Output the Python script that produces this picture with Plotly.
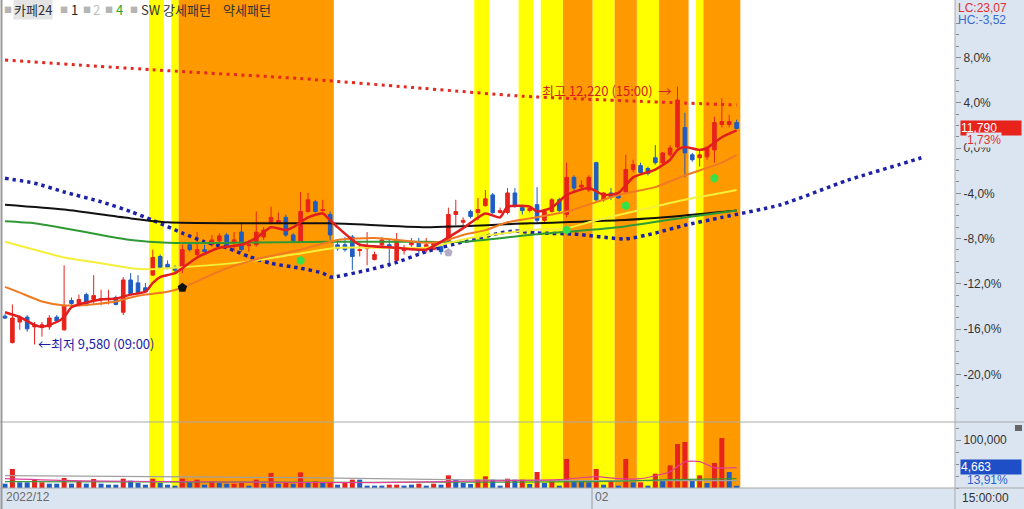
import plotly.graph_objects as go

W, H = 1024, 509
def px(x): return x / W
def py(y): return 1 - y / H

# ---------------- data ----------------
BASE = 11590  # 0.0% reference price
idx = list(range(100))

opens = [9870, 9600, 9810, 9860, 9760, 9770, 9760, 9860, 9730, 10030,
         9980, 10090, 10040, 10040, 10040, 10060, 9910, 10240, 10210, 10160,
         10290, 10480, 10400, 10360, 10370, 10600, 10500, 10550, 10600, 10640,
         10700, 10630, 10730, 10590, 10600, 10680, 10830, 10820, 10880, 10700,
         10630, 10940, 11040, 10950, 10910, 10600, 10600, 10680, 10540, 10560,
         10450, 10600, 10600, 10440, 10540, 10600, 10630, 10580, 10550, 10580,
         10630, 10910, 10830, 10940, 10930, 11000, 11110, 10930, 10930, 11130,
         10980, 10950, 11010, 10850, 10940, 11060, 10910, 11290, 11190, 11160,
         11440, 11060, 11130, 11120, 11140, 11370, 11410, 11380, 11490, 11440,
         11520, 11600, 11800, 11520, 11490, 11500, 11570, 11830, 11830, 11850]
highs = [9890, 9990, 9880, 9880, 9810, 9810, 9880, 9880, 10390, 10060,
         10090, 10110, 10290, 10140, 10140, 10080, 10270, 10310, 10290, 10210,
         10550, 10500, 10440, 10390, 10600, 10630, 10730, 10600, 10700, 10720,
         10720, 10730, 10830, 10650, 10940, 10780, 10990, 10930, 10910, 10720,
         11140, 11130, 11060, 11060, 10940, 10650, 10680, 10700, 10620, 10730,
         10530, 10680, 10650, 10720, 10600, 10670, 10670, 10670, 10630, 10630,
         10980, 11060, 10880, 10960, 11080, 11160, 11130, 10980, 11180, 11180,
         11010, 10990, 11190, 10960, 11080, 11080, 11440, 11310, 11260, 11310,
         11450, 11140, 11180, 11130, 11520, 11470, 11440, 11400, 11620, 11550,
         11620, 12220, 11950, 11540, 11570, 11600, 11910, 12100, 11930, 11880]
lows = [9840, 9590, 9730, 9710, 9580, 9660, 9730, 9810, 9720, 9980,
        9970, 9970, 10000, 9980, 9990, 9980, 9880, 10090, 10110, 10110,
        10280, 10360, 10350, 10320, 10310, 10530, 10480, 10520, 10580, 10620,
        10570, 10530, 10530, 10530, 10580, 10650, 10820, 10810, 10680, 10620,
        10620, 10930, 10930, 10940, 10650, 10540, 10530, 10340, 10480, 10390,
        10440, 10580, 10370, 10420, 10500, 10580, 10500, 10520, 10550, 10500,
        10620, 10800, 10800, 10870, 10850, 10990, 10910, 10920, 10910, 10980,
        10910, 10930, 10820, 10830, 10930, 10930, 10880, 11140, 11160, 11140,
        11040, 11040, 11060, 11070, 11130, 11340, 11330, 11310, 11420, 11420,
        11500, 11570, 11290, 11450, 11400, 11470, 11440, 11800, 11800, 11780]
closes = [9850, 9850, 9860, 9740, 9780, 9780, 9850, 9820, 9980, 10000,
          10040, 9980, 10080, 10050, 10050, 9990, 10240, 10100, 10110, 10120,
          10470, 10370, 10370, 10340, 10550, 10550, 10550, 10530, 10650, 10690,
          10590, 10650, 10550, 10600, 10730, 10750, 10880, 10850, 10700, 10640,
          10940, 11060, 10940, 10960, 10700, 10560, 10550, 10480, 10550, 10570,
          10500, 10650, 10570, 10650, 10560, 10630, 10540, 10600, 10620, 10530,
          10910, 10940, 10850, 10890, 10960, 11070, 10930, 10950, 11130, 10990,
          10950, 10970, 10850, 10940, 11060, 10950, 11290, 11180, 11210, 11290,
          11060, 11130, 11090, 11080, 11370, 11420, 11340, 11330, 11440, 11540,
          11590, 12080, 11540, 11470, 11520, 11590, 11850, 11860, 11860, 11790]

volumes = [9000, 39600, 11800, 11800, 18700, 11800, 9000, 9000, 20800, 9000,
           15300, 9000, 18700, 9000, 6900, 6900, 19400, 15300, 10400, 6900,
           19400, 10400, 6900, 4900, 19400, 12500, 17400, 6900, 13900, 10400,
           9000, 9000, 10400, 4900, 17400, 9000, 31200, 9000, 10400, 9000,
           32600, 11800, 13900, 10400, 10400, 6900, 10400, 17400, 17400, 4900,
           4900, 4900, 6900, 6900, 4900, 6900, 9000, 4900, 9000, 6900,
           26400, 17400, 10400, 8300, 17400, 24300, 17400, 4900, 19400, 17400,
           17400, 8300, 33300, 10400, 13900, 4900, 60400, 15300, 15300, 11800,
           39600, 6900, 16000, 4900, 60400, 11800, 11800, 4900, 29800, 16000,
           47200, 91600, 95800, 15300, 26400, 10400, 52100, 104100, 33300, 4663]
vol_dir = ("dudduuddud" "ududdduddd" "udddududud" "duudududud" "udududuudd"
           "dduuddudud" "uddduuddud" "ududududdd" "ududududud" "uuududuudd")

# moving averages (candle index, price)
ma_red_x = [0, 2, 4, 5, 7, 8, 9, 11, 13, 15, 17, 19, 20, 21, 22, 23, 24, 26, 29, 32, 34, 36, 38, 39,
            41, 43, 44, 45, 47, 48, 53, 57, 59, 62, 65, 67, 68, 71, 72, 74, 76, 79, 81, 83, 85, 88,
            90, 91, 92, 94, 95, 97, 99]
ma_red_y = [9910, 9860, 9780, 9760, 9810, 9860, 9960, 10010, 10040, 10050, 10090, 10120, 10210, 10270,
            10290, 10310, 10360, 10470, 10570, 10600, 10670, 10780, 10750, 10780, 10880, 10920, 10850,
            10780, 10650, 10600, 10570, 10550, 10630, 10770, 10920, 10880, 10990, 10990, 10940, 10980,
            11110, 11180, 11110, 11130, 11290, 11370, 11470, 11570, 11600, 11570, 11590, 11700, 11770]
ma_org_x = [0, 2, 5, 8, 10, 13, 15, 17, 19, 22, 24, 30, 35, 40, 45, 50, 57, 59, 62, 65, 68, 71, 76, 83, 88, 92, 97, 99]
ma_org_y = [10170, 10110, 10020, 9980, 9980, 10000, 10020, 10060, 10090, 10120, 10160, 10360, 10470, 10550,
            10650, 10670, 10620, 10630, 10700, 10750, 10830, 10870, 10940, 11110, 11190, 11310, 11440, 11520]
ma_yel_x = [0, 4, 8, 13, 17, 20, 24, 32, 39, 45, 57, 59, 63, 71, 76, 80, 89, 92, 99]
ma_yel_y = [10630, 10550, 10470, 10410, 10360, 10350, 10370, 10420, 10500, 10570, 10570, 10600, 10670,
            10750, 10770, 10850, 11010, 11060, 11160]
ma_grn_x = [0, 4, 8, 13, 17, 22, 31, 44, 57, 62, 71, 83, 92, 99]
ma_grn_y = [10840, 10820, 10770, 10700, 10650, 10620, 10620, 10630, 10630, 10630, 10700, 10780, 10880, 10950]
ma_blk_x = [0, 8, 17, 22, 31, 44, 57, 71, 83, 92, 99]
ma_blk_y = [11010, 10960, 10870, 10830, 10820, 10820, 10780, 10820, 10850, 10900, 10950]
env_top_x = [0, 20, 40, 55, 70, 85, 99]
env_top_y = [12490, 12390, 12300, 12210, 12120, 12070, 12030]
lead_x = [0, 4, 8, 13, 17, 20, 24, 27, 30, 33, 36, 40, 43, 44, 49, 53, 57, 62, 67, 69, 72, 77, 84,
          88, 92, 97, 105, 114, 121, 124]
lead_y = [11280, 11230, 11140, 11040, 10940, 10850, 10720, 10630, 10570, 10480, 10410, 10360, 10310,
          10270, 10340, 10420, 10530, 10630, 10720, 10740, 10720, 10710, 10660, 10720, 10800, 10880,
          11010, 11260, 11420, 11490]

vma_gray_x = [0, 20, 40, 60, 80, 99]
vma_gray_y = [25600, 23500, 21500, 17300, 15200, 15200]
vma_grn_x = [0, 50, 80, 90, 99]
vma_grn_y = [13100, 12000, 13100, 17300, 19400]
vma_pink_x = [0, 10, 30, 50, 65, 75, 80, 83, 86, 90, 92, 94, 96, 99]
vma_pink_y = [19400, 15000, 12500, 11000, 15000, 17300, 23500, 19400, 19400, 34000, 54800, 54800, 42300, 42300]

# signal markers
bull_x, bull_y = [24], [10160]
gray_x, gray_y = [60], [10520]
green_x = [40, 76, 84, 96]
green_y = [10440, 10750, 11000, 11280]

# pattern bands (first, last candle)
yellow_bands = [(20, 21), (23, 23), (64, 65), (70, 71), (73, 75), (80, 82), (86, 88), (94, 94)]
orange_bands = [(24, 44), (76, 79), (83, 85), (89, 92), (95, 99)]

pct_ticks = [8, 4, 0, -4, -8, -12, -16, -20]
pct_labels = ["8,0%", "4,0%", "0,0%", "-4,0%", "-8,0%", "-12,0%", "-16,0%", "-20,0%"]

# ---------------- colors ----------------
RED = "#e8231c"
BLUE = "#1f5cc4"
PANEL = "#dbe5f1"
FONT = "Noto Sans CJK KR, Liberation Sans, sans-serif"

fig = go.Figure()

def line(xs, ys, color, width, dash=None, ax=("x", "y")):
    fig.add_trace(go.Scatter(x=xs, y=ys, mode="lines", xaxis=ax[0], yaxis=ax[1],
                             line=dict(color=color, width=width, dash=dash, shape="spline", smoothing=0.6),
                             hoverinfo="skip", showlegend=False))

line(env_top_x, env_top_y, "#e22a22", 3, "3px,4.4px")
line(lead_x, lead_y, "#1c22a8", 3.5, "3.5px,3.9px")
line(ma_blk_x, ma_blk_y, "#111111", 2)
line(ma_grn_x, ma_grn_y, "#2f9a35", 2)
line(ma_yel_x, ma_yel_y, "#f4ef3a", 2)
line(ma_org_x, ma_org_y, "#f07a22", 2)

fig.add_trace(go.Candlestick(
    x=idx, open=opens, high=highs, low=lows, close=closes,
    increasing=dict(line=dict(color=RED, width=1), fillcolor=RED),
    decreasing=dict(line=dict(color=BLUE, width=1), fillcolor=BLUE),
    whiskerwidth=0, xaxis="x", yaxis="y", showlegend=False, hoverinfo="skip"))

line(ma_red_x, ma_red_y, "#e11d1d", 2.5)

fig.add_trace(go.Scatter(x=bull_x, y=bull_y, mode="markers", xaxis="x", yaxis="y",
                         marker=dict(symbol="pentagon", size=10, color="#111111"), hoverinfo="skip"))
fig.add_trace(go.Scatter(x=gray_x, y=gray_y, mode="markers", xaxis="x", yaxis="y",
                         marker=dict(symbol="pentagon", size=9, color="#b4acc4"), hoverinfo="skip"))
fig.add_trace(go.Scatter(x=green_x, y=green_y, mode="markers", xaxis="x", yaxis="y",
                         marker=dict(symbol="hexagon", size=9, color="#35e04a"), hoverinfo="skip"))

# volume
vcols = [RED if d == "u" else BLUE for d in vol_dir]
fig.add_trace(go.Bar(x=idx, y=volumes, marker=dict(color=vcols, line=dict(width=0)), width=0.68,
                     xaxis="x2", yaxis="y2", hoverinfo="skip", showlegend=False))
line(vma_gray_x, vma_gray_y, "#a0a0a0", 1.2, ax=("x2", "y2"))
line(vma_grn_x, vma_grn_y, "#3c9a3c", 1.2, ax=("x2", "y2"))
line(vma_pink_x, vma_pink_y, "#e0409a", 1.2, ax=("x2", "y2"))

# ---------------- axes ----------------
XL = (2 - 5) / 7.39
XR = (955 - 5) / 7.39
Y_LO = BASE + 10.23 * (148 - 422)
Y_HI = BASE + 10.23 * 148
tickvals = [BASE * (1 + p / 100) for p in pct_ticks]
minorvals = [BASE * (1 + p / 100) for p in range(-23, 12) if p % 4 != 0]

common_x = dict(domain=[px(2), px(955)], range=[XL, XR], showticklabels=False, showgrid=False,
                zeroline=False, showline=False, ticks="", fixedrange=True)
fig.update_layout(
    width=W, height=H, margin=dict(l=0, r=0, t=0, b=0),
    paper_bgcolor="white", plot_bgcolor="rgba(0,0,0,0)", showlegend=False,
    font=dict(family=FONT, size=11, color="#333"),
    xaxis=dict(**common_x, anchor="y", rangeslider=dict(visible=False)),
    xaxis2=dict(**common_x, anchor="y2"),
    yaxis=dict(domain=[py(422), 1], range=[Y_LO, Y_HI], side="right", anchor="x",
               tickvals=tickvals, ticktext=pct_labels, ticks="outside", ticklen=5,
               tickcolor="#8a8a8a", showgrid=False, zeroline=False, showline=False,
               tickfont=dict(size=12, color="#333", family="Liberation Sans, sans-serif"),
               minor=dict(tickvals=minorvals, ticks="outside", ticklen=3, tickcolor="#8a8a8a")),
    yaxis2=dict(domain=[py(488), py(422)], range=[0, 137500], side="right", anchor="x2",
                tickvals=[100000], ticktext=["100,000"], ticks="outside", ticklen=5,
                tickcolor="#8a8a8a", showgrid=False, zeroline=False, showline=False,
                tickfont=dict(size=12, color="#333", family="Liberation Sans, sans-serif"),
                minor=dict(dtick=25000, ticks="outside", ticklen=3, tickcolor="#8a8a8a")),
)

# ---------------- shapes ----------------
shapes = []
for a, b in yellow_bands:
    shapes.append(dict(type="rect", xref="x", yref="paper", x0=a - 0.5, x1=b + 0.5, y0=py(488), y1=1,
                       fillcolor="#ffff00", line=dict(width=0), layer="below"))
for a, b in orange_bands:
    shapes.append(dict(type="rect", xref="x", yref="paper", x0=a - 0.5, x1=b + 0.5, y0=py(488), y1=1,
                       fillcolor="#ff9900", line=dict(width=0), layer="below"))
shapes += [
    dict(type="rect", xref="paper", yref="paper", x0=px(955), x1=1, y0=0, y1=1,
         fillcolor=PANEL, line=dict(width=0), layer="below"),
    dict(type="rect", xref="paper", yref="paper", x0=0, x1=1, y0=0, y1=py(488),
         fillcolor=PANEL, line=dict(width=0), layer="below"),
    dict(type="line", xref="paper", yref="paper", x0=0, x1=1, y0=py(422), y1=py(422),
         line=dict(color="#a9a9a9", width=1)),
    dict(type="line", xref="paper", yref="paper", x0=0, x1=1, y0=py(488), y1=py(488),
         line=dict(color="#a9a9a9", width=1)),
    dict(type="line", xref="paper", yref="paper", x0=px(955), x1=px(955), y0=0, y1=1,
         line=dict(color="#a9a9a9", width=1)),
    dict(type="line", xref="paper", yref="paper", x0=px(1.5), x1=px(1.5), y0=0, y1=1,
         line=dict(color="#9a9a9a", width=2)),
    dict(type="line", xref="paper", yref="paper", x0=px(592), x1=px(592), y0=0, y1=py(488),
         line=dict(color="#9a9a9a", width=1)),
    dict(type="rect", xref="paper", yref="paper", x0=px(1015), x1=px(1022), y0=py(431), y1=py(425),
         fillcolor="#666666", line=dict(width=0)),
]
fig.update_layout(shapes=shapes)

# ---------------- annotations ----------------
ann = []
def txt(x, y, s, color="#333", size=12, xanchor="left", bg=None, family=FONT, width=None, ref="paper"):
    d = dict(x=x, y=y, xref=ref if ref == "paper" else "x", yref=ref if ref == "paper" else "y",
             text=s, showarrow=False, xanchor=xanchor, yanchor="middle",
             font=dict(color=color, size=size, family=family), borderpad=0)
    if bg:
        d["bgcolor"] = bg
    if width:
        d["width"] = width
        d["align"] = "left"
    ann.append(d)

# top-left legend
for sx in [6, 62, 85, 107, 132]:
    txt(px(sx - 3), py(9), "■", color="#b5b5b5", size=8)
txt(px(13), py(9), "카페24", color="#333", size=13, bg="#e4e4e4")
txt(px(70), py(9), "1", color="#222", size=13)
txt(px(92), py(9), "2", color="#bdbdbd", size=13)
txt(px(115), py(9), "4", color="#2aa52a", size=13)
txt(px(140), py(9), "SW 강세패턴", color="#333", size=13)
txt(px(222), py(9), "약세패턴", color="#333", size=13)

# right panel
mono = "Liberation Sans, sans-serif"
txt(px(957), py(8), "LC:23,07", color="#e03030", size=12, family=mono)
txt(px(957), py(20), "HC:-3,52", color="#3a6ad0", size=12, family=mono)
txt(px(960), py(128), "11,790", color="white", size=12, bg=RED, family=mono, width=60)
txt(px(966), py(140), "1,73%", color="#e03030", size=12, bg=PANEL, family=mono)
txt(px(960), py(467), "4,663", color="white", size=12, bg="#1f4fc6", family=mono, width=60)
txt(px(966), py(480), "13,91%", color="#2a5fd0", size=12, family=mono)
txt(px(961), py(498), "15:00:00", color="#333", size=12, family=mono)
txt(px(5), py(497), "2022/12", color="#6a6a6a", size=12, family=mono)
txt(px(594), py(497), "02", color="#6a6a6a", size=12, family=mono)

# chart labels (data coordinates)
txt((673 - 5) / 7.39, BASE + 10.23 * (148 - 90), "최고 12,220 (15:00)  →", color="#d42020",
    size=13, xanchor="right", ref="data")
txt((37 - 5) / 7.39, BASE + 10.23 * (148 - 343), "←최저 9,580 (09:00)", color="#1c1ca8",
    size=13, ref="data")

fig.update_layout(annotations=ann)
fig.write_html("out.html", config={"displayModeBar": False},
               post_script="document.body.style.margin='0';document.body.style.overflow='hidden';")
